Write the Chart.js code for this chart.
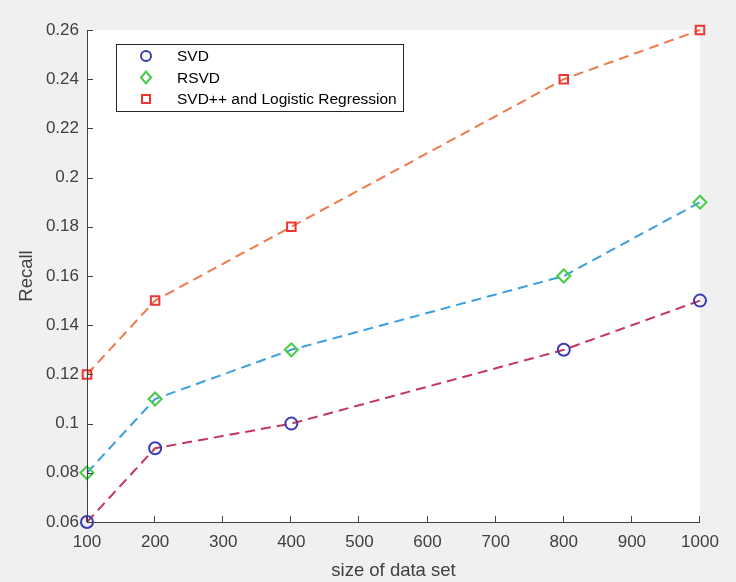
<!DOCTYPE html>
<html>
<head>
<meta charset="utf-8">
<script src="https://cdn.jsdelivr.net/npm/chart.js@4"></script>
<style>
  html, body { margin: 0; padding: 0; background: #f0f0f0; }
  #wrap { width: 736px; height: 582px; position: relative; }
</style>
</head>
<body>
<div id="wrap"><canvas id="recallChart" width="736" height="582"></canvas></div>
<script>
const sizes = [100, 200, 400, 800, 1000];
const svdRecall = [0.06, 0.09, 0.10, 0.13, 0.15];
const rsvdRecall = [0.08, 0.11, 0.13, 0.16, 0.19];
const svdppRecall = [0.12, 0.15, 0.18, 0.24, 0.26];
const seriesNames = ['SVD', 'RSVD', 'SVD++ and Logistic Regression'];
const xTicks = [100, 200, 300, 400, 500, 600, 700, 800, 900, 1000];
const yTicks = [0.06, 0.08, 0.1, 0.12, 0.14, 0.16, 0.18, 0.2, 0.22, 0.24, 0.26];

const FONT = '"Liberation Sans", Arial, sans-serif';
const AXIS = '#404040';

const toPoints = vals => vals.map((v, i) => ({ x: sizes[i], y: v }));

const ctx = document.getElementById('recallChart').getContext('2d');

// white plot box on grey figure background
const plotBg = {
  id: 'plotBg',
  beforeDraw(chart) {
    const { ctx, chartArea: a } = chart;
    ctx.save();
    ctx.fillStyle = '#f0f0f0';
    ctx.fillRect(0, 0, chart.width, chart.height);
    ctx.fillStyle = '#ffffff';
    ctx.fillRect(a.left, a.top, a.right - a.left, a.bottom - a.top);
    ctx.restore();
  }
};

// matlab style axes: left + bottom lines, inward ticks
const matlabAxes = {
  id: 'matlabAxes',
  afterDatasetsDraw(chart) {
    const { ctx, chartArea: a, scales } = chart;
    ctx.save();
    ctx.strokeStyle = AXIS;
    ctx.lineWidth = 1;
    ctx.beginPath();
    ctx.moveTo(a.left + 0.5, a.top);
    ctx.lineTo(a.left + 0.5, a.bottom + 0.5);
    ctx.lineTo(a.right, a.bottom + 0.5);
    xTicks.forEach(t => {
      const px = Math.round(scales.x.getPixelForValue(t)) - 0.5;
      ctx.moveTo(px, a.bottom);
      ctx.lineTo(px, a.bottom - 6);
    });
    yTicks.forEach(t => {
      const py = Math.round(scales.y.getPixelForValue(t)) + 0.5;
      ctx.moveTo(a.left, py);
      ctx.lineTo(a.left + 6, py);
    });
    ctx.stroke();
    ctx.restore();
  },
  afterDraw(chart) {
    // legend box in the upper left of the axes
    const { ctx } = chart;
    const box = { x: 116.5, y: 44.5, w: 287, h: 67 };
    ctx.save();
    ctx.fillStyle = '#ffffff';
    ctx.fillRect(box.x, box.y, box.w, box.h);
    ctx.strokeStyle = '#262626';
    ctx.lineWidth = 1;
    ctx.strokeRect(box.x, box.y, box.w, box.h);
    ctx.font = '15.5px ' + FONT;
    ctx.textBaseline = 'middle';
    ctx.fillStyle = '#000000';
    chart.data.datasets.forEach((ds, i) => {
      const cy = 56 + i * 21.5;
      const cx = 146;
      ctx.strokeStyle = ds.pointBorderColor;
      ctx.lineWidth = 2;
      ctx.beginPath();
      if (ds.pointStyle === 'circle') {
        ctx.arc(cx, cy, 5, 0, Math.PI * 2);
      } else if (ds.pointStyle === 'rectRot') {
        ctx.moveTo(cx, cy - 6); ctx.lineTo(cx + 5, cy);
        ctx.lineTo(cx, cy + 6); ctx.lineTo(cx - 5, cy); ctx.closePath();
      } else {
        ctx.rect(cx - 4, cy - 4, 8, 8);
      }
      ctx.stroke();
      ctx.fillText(ds.label, 177, cy + 1);
    });
    ctx.restore();
  }
};

new Chart(ctx, {
  type: 'line',
  data: {
    datasets: [
      {
        label: seriesNames[0],
        data: toPoints(svdRecall),
        borderColor: '#c5365c',
        pointBorderColor: '#3a3ab5',
        pointStyle: 'circle',
        pointRadius: 6
      },
      {
        label: seriesNames[1],
        data: toPoints(rsvdRecall),
        borderColor: '#3c9ede',
        pointBorderColor: '#48cc48',
        pointStyle: 'rectRot',
        pointRadius: 6.5
      },
      {
        label: seriesNames[2],
        data: toPoints(svdppRecall),
        borderColor: '#ee7a48',
        pointBorderColor: '#ee3535',
        pointStyle: 'rect',
        pointRadius: 6
      }
    ].map(ds => Object.assign({
      borderWidth: 2,
      borderDash: [10, 6],
      pointBackgroundColor: 'rgba(0,0,0,0)',
      pointBorderWidth: 2,
      tension: 0,
      fill: false,
      clip: false
    }, ds))
  },
  options: {
    responsive: false,
    animation: false,
    layout: { padding: { top: 30, right: 36, left: 0, bottom: 0 } },
    plugins: {
      legend: { display: false },
      tooltip: { enabled: false }
    },
    scales: {
      x: {
        type: 'linear',
        min: 100,
        max: 1000,
        afterBuildTicks: axis => { axis.ticks = xTicks.map(v => ({ value: v })); },
        afterFit: axis => { axis.height = 60; },
        grid: { display: false, drawTicks: false },
        border: { display: false },
        ticks: {
          color: AXIS,
          font: { family: FONT, size: 17 },
          padding: 10,
          maxRotation: 0,
          autoSkip: false,
          callback: v => String(v)
        },
        title: {
          display: true,
          text: 'size of data set',
          color: AXIS,
          font: { family: FONT, size: 18.5 },
          padding: { top: 1, bottom: 0 }
        }
      },
      y: {
        min: 0.06,
        max: 0.26,
        afterBuildTicks: axis => { axis.ticks = yTicks.map(v => ({ value: v })); },
        afterFit: axis => { axis.width = 87; },
        grid: { display: false, drawTicks: false },
        border: { display: false },
        ticks: {
          color: AXIS,
          font: { family: FONT, size: 17 },
          padding: 8,
          autoSkip: false,
          callback: v => String(Number(v.toFixed(2)))
        },
        title: {
          display: true,
          text: 'Recall',
          color: AXIS,
          font: { family: FONT, size: 18.5 },
          padding: { top: 16, bottom: 0 }
        }
      }
    }
  },
  plugins: [plotBg, matlabAxes]
});
</script>
</body>
</html>
